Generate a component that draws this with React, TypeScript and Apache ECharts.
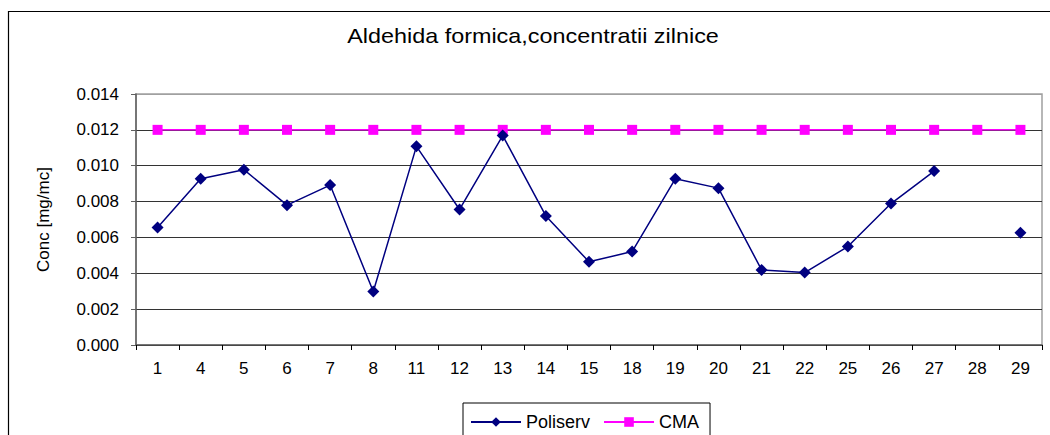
import React, { useEffect, useRef } from "react";
import * as echarts from "echarts";

const categories: string[] = ["1", "4", "5", "6", "7", "8", "11", "12", "13", "14", "15", "18", "19", "20", "21", "22", "25", "26", "27", "28", "29"];
const poliserv: (number | null)[] = [0.00655, 0.00927, 0.00978, 0.0078, 0.00892, 0.00298, 0.01108, 0.00756, 0.01168, 0.0072, 0.00464, 0.00521, 0.00927, 0.00875, 0.00419, 0.00404, 0.00549, 0.00789, 0.0097, null, 0.00626];
const cma: number[] = categories.map(() => 0.012);
const titleText = "Aldehida formica,concentratii zilnice";
const yAxisName = "Conc [mg/mc]";

const FONT = "'Liberation Sans', Arial, sans-serif";

export default function App() {
  const ref = useRef<HTMLDivElement>(null);
  useEffect(() => {
    if (!ref.current) return;
    const chart = echarts.init(ref.current, undefined, { renderer: "svg" });
    const gridColors = ["#000", "#333", "#333", "#333", "#333", "#333", "#333", "#a0a0a0"];
    chart.setOption({
      animation: false,
      backgroundColor: "#fff",
      textStyle: { fontFamily: FONT },
      graphic: [
        {
          type: "rect",
          shape: { x: 8.5, y: 11.5, width: 1100, height: 500 },
          style: { fill: "none", stroke: "#000", lineWidth: 1.2 },
          silent: true,
        },
        {
          type: "text",
          x: 533,
          y: 36,
          scaleX: 1.17,
          style: {
            text: titleText,
            font: `20px ${FONT}`,
            fill: "#000",
            textAlign: "center",
            textVerticalAlign: "middle",
          },
        },
      ],
      legend: {
        left: 463,
        top: 403,
        itemWidth: 50,
        itemHeight: 12,
        itemGap: 13,
        padding: [10, 11, 20, 7],
        borderColor: "#000",
        borderWidth: 1,
        textStyle: { fontSize: 18, color: "#000", fontFamily: FONT },
        data: ["Poliserv", "CMA"],
      },
      grid: {
        left: 136,
        top: 94,
        right: 8,
        bottom: 90,
        show: true,
        borderColor: "#a0a0a0",
        borderWidth: 1.5,
        containLabel: false,
      },
      xAxis: {
        type: "category",
        data: categories,
        boundaryGap: true,
        axisLine: { lineStyle: { color: "#606060", width: 1.5 } },
        axisTick: { show: true, length: 5, alignWithLabel: false, lineStyle: { color: "#000" } },
        axisLabel: { fontSize: 17, color: "#000", margin: 15, interval: 0, fontFamily: FONT },
        splitLine: { show: false },
      },
      yAxis: {
        type: "value",
        min: 0,
        max: 0.014,
        interval: 0.002,
        name: yAxisName,
        nameLocation: "middle",
        nameRotate: 90,
        nameGap: 84,
        nameTextStyle: { fontSize: 17, color: "#000", fontFamily: FONT },
        axisLine: { show: true, lineStyle: { color: "#606060", width: 1.5 } },
        axisTick: { show: true, length: 5, lineStyle: { color: "#606060" } },
        axisLabel: {
          fontSize: 17,
          color: "#000",
          margin: 17,
          fontFamily: FONT,
          formatter: (v: number) => v.toFixed(3),
        },
        splitLine: { show: true, lineStyle: { color: gridColors, width: 1 } },
      },
      series: [
        {
          name: "Poliserv",
          type: "line",
          data: poliserv,
          connectNulls: false,
          symbol: "diamond",
          symbolSize: 12,
          itemStyle: { color: "#000080" },
          lineStyle: { color: "#000080", width: 1.5 },
          z: 3,
        },
        {
          name: "CMA",
          type: "line",
          data: cma,
          symbol: "rect",
          symbolSize: 10,
          itemStyle: { color: "#ff00ff" },
          lineStyle: { color: "#ff00ff", width: 1.5 },
          z: 2,
        },
      ],
    });
    return () => chart.dispose();
  }, []);
  return (
    <div
      ref={ref}
      style={{ position: "fixed", left: 0, top: 0, width: 1050, height: 435 }}
    />
  );
}
